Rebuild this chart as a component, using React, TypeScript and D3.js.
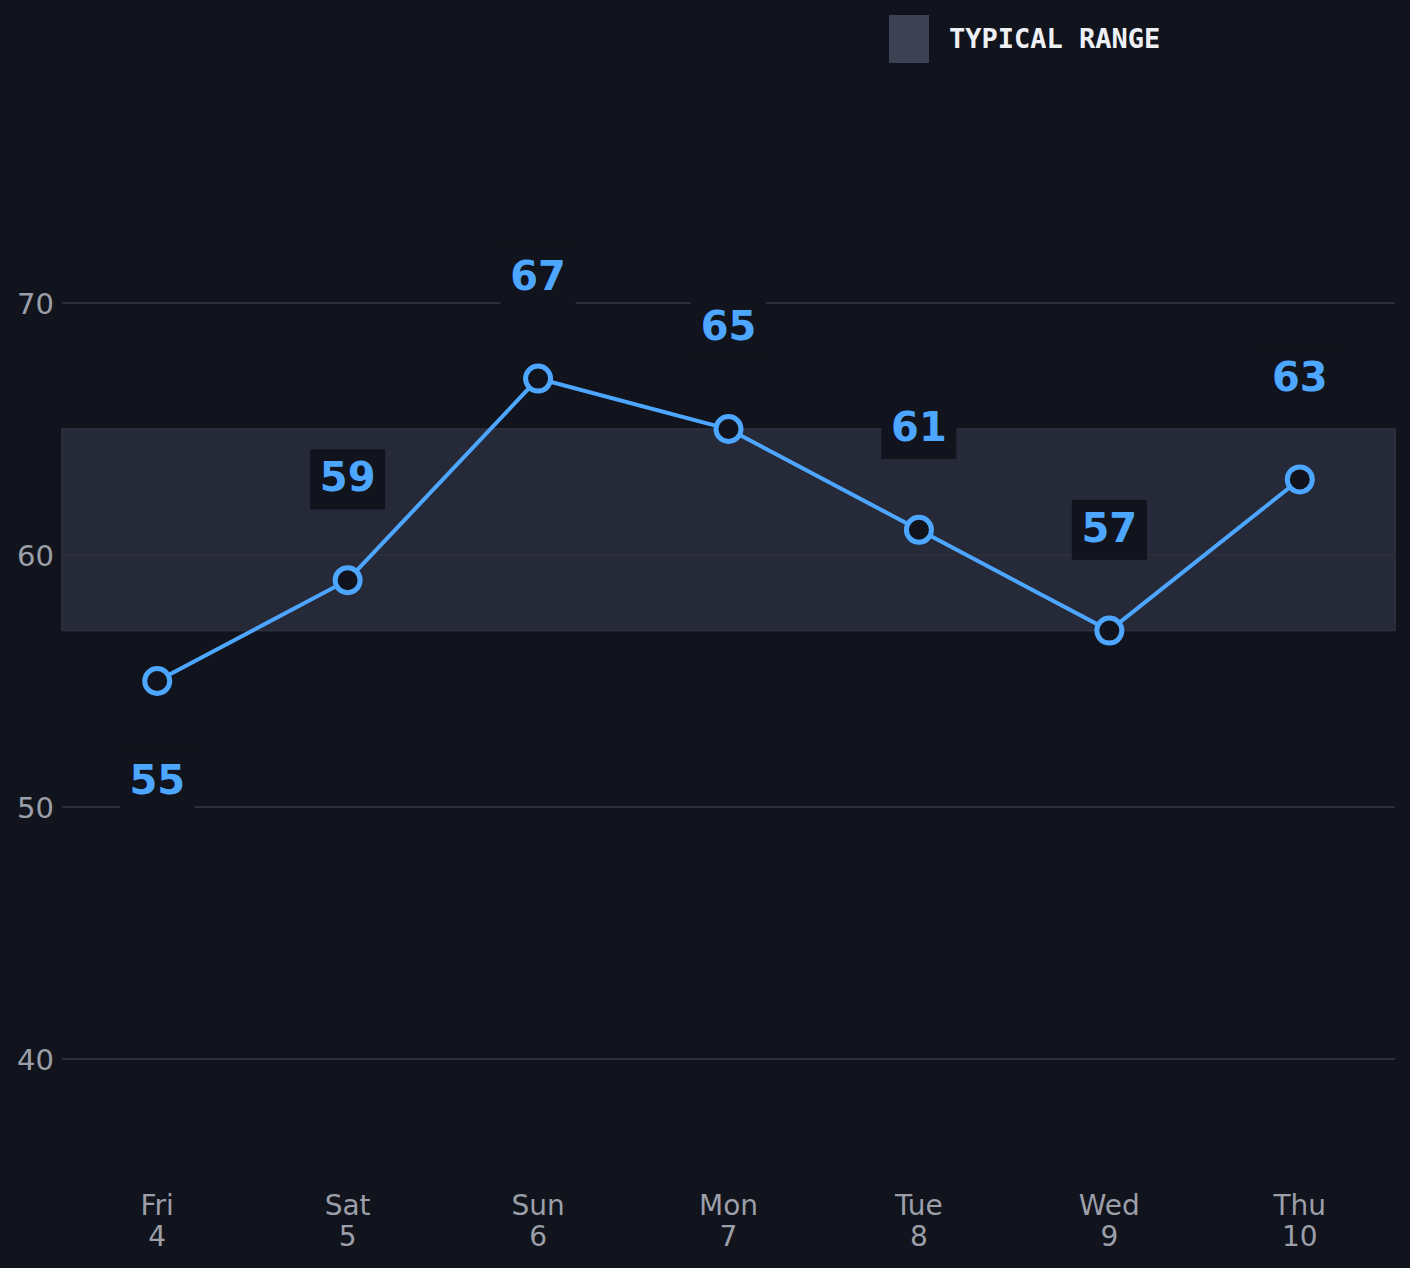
import React from "react";
import * as d3 from "d3";

const days = ["Fri", "Sat", "Sun", "Mon", "Tue", "Wed", "Thu"];
const dates = ["4", "5", "6", "7", "8", "9", "10"];
const values = [55, 59, 67, 65, 61, 57, 63];
const labelSide = ["below", "above", "above", "above", "above", "above", "above"];
const yTicks = [40, 50, 60, 70];
const typicalLow = 57;
const typicalHigh = 65;
const legendLabel = "TYPICAL RANGE";

const W = 1410;
const H = 1268;
const BG = "#11141c";
const BLUE = "#4da6ff";

export default function App() {
  const x = d3.scaleBand<string>().domain(days).range([62, 1395]).padding(0);
  const y = d3.scaleLinear().domain([40, 70]).range([1059, 303]);
  const cx = (i: number) => (x(days[i]) as number) + x.bandwidth() / 2;

  const line = d3
    .line<number>()
    .x((_, i) => cx(i))
    .y((d) => y(d));

  const labelOffset = 4;

  return (
    <svg
      width={W}
      height={H}
      style={{ position: "absolute", left: 0, top: 0, display: "block" }}
      fontFamily="DejaVu Sans, sans-serif"
    >
      <rect x={0} y={0} width={W} height={H} fill={BG} />

      {/* typical range band */}
      <rect
        x={62}
        y={y(typicalHigh)}
        width={1395 - 62}
        height={y(typicalLow) - y(typicalHigh)}
        fill="#262938"
        stroke="#30333f"
        strokeWidth={1.5}
      />

      {/* gridlines + y labels */}
      {yTicks.map((t) => (
        <g key={t}>
          <line x1={62} x2={1395} y1={y(t)} y2={y(t)} stroke="#2c2f39" strokeWidth={2} />
          <text
            x={54}
            y={y(t)}
            dy={11}
            textAnchor="end"
            fontSize={29}
            fill="#9c9fa9"
          >
            {t}
          </text>
        </g>
      ))}

      {/* x labels */}
      {days.map((d, i) => (
        <text key={d} x={cx(i)} textAnchor="middle" fontSize={28} fill="#9c9fa9">
          <tspan x={cx(i)} y={1215}>{d}</tspan>
          <tspan x={cx(i)} y={1246}>{dates[i]}</tspan>
        </text>
      ))}

      {/* line */}
      <path d={line(values) || ""} fill="none" stroke={BLUE} strokeWidth={4} />

      {/* points */}
      {values.map((v, i) => (
        <circle key={i} cx={cx(i)} cy={y(v)} r={12.5} fill={BG} stroke={BLUE} strokeWidth={5} />
      ))}

      {/* value labels */}
      {values.map((v, i) => {
        const ly = y(labelSide[i] === "above" ? v + labelOffset : v - labelOffset);
        return (
          <g key={"l" + i}>
            <rect x={cx(i) - 37.5} y={ly - 30} width={75} height={60} fill={BG} />
            <text
              x={cx(i)}
              y={ly}
              dy={12}
              textAnchor="middle"
              fontSize={40}
              fontWeight="bold"
              fill={BLUE}
            >
              {v}
            </text>
          </g>
        );
      })}

      {/* legend */}
      <rect x={889} y={15} width={40} height={48} fill="#3d4154" />
      <text
        x={949}
        y={38}
        dy={9.5}
        fontFamily="DejaVu Sans Mono, monospace"
        fontWeight="bold"
        fontSize={27}
        fill="#eef0f5"
      >
        {legendLabel}
      </text>
    </svg>
  );
}
